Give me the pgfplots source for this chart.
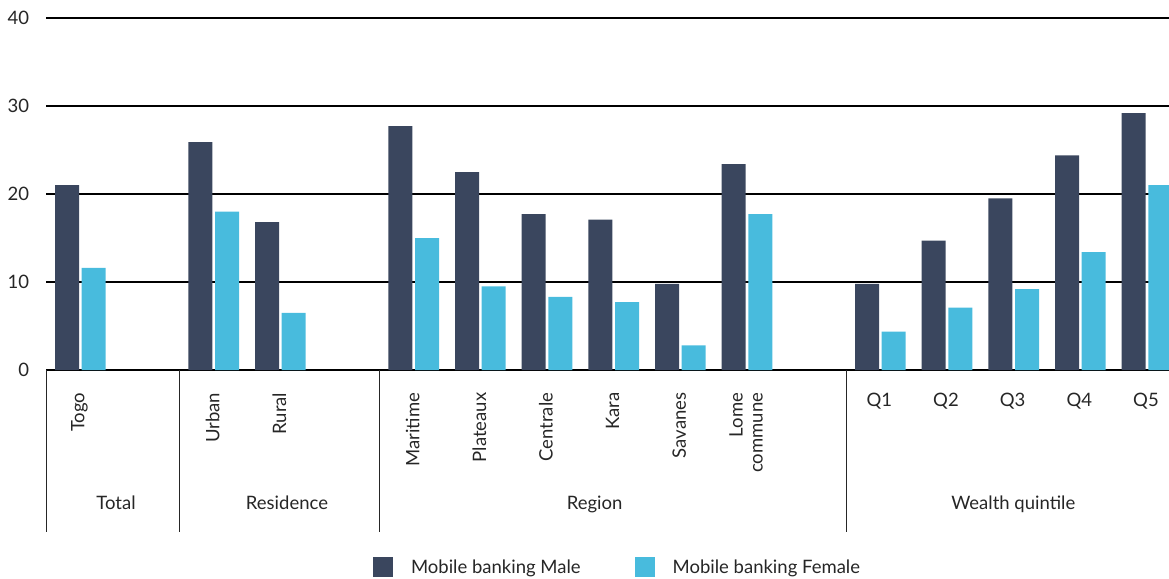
\documentclass[border=0pt]{standalone}
\usepackage{pgfplots}
\pgfplotsset{compat=1.18}
\usepackage{fontspec}
\setmainfont{Lato}
\definecolor{male}{HTML}{3A465E}
\definecolor{female}{HTML}{48BBDD}
\newcommand\lbl{\fontsize{18.5bp}{20bp}\selectfont}
\begin{document}
\begin{tikzpicture}
\useasboundingbox (0bp,0bp) rectangle (1169bp,-579bp);
\begin{axis}[
  at={(46bp,-370bp)}, anchor=south west,
  scale only axis, width=1123bp, height=352bp,
  xmin=-0.5, xmax=16.345, ymin=0, ymax=40,
  enlargelimits=false, clip=false,
  ybar, bar width=0.36,
  axis x line*=bottom, axis y line*=left,
  y axis line style={draw=none},
  x axis line style={black, line width=1.1pt},
  major tick length=0pt,
  ymajorgrids, grid style={black, line width=1.1pt},
  ytick={0,10,20,30,40},
  /pgf/number format/assume math mode=true,
  tick label style={font=\lbl, inner sep=0pt, text=black!85},
  yticklabel style={anchor=east},
  yticklabel shift=16.7bp,
  xticklabel shift=22.5bp,
  xtick={12,13,14,15,16},
  xticklabels={Q1,Q2,Q3,Q4,Q5},
  extra x ticks={0,2,3,5,6,7,8,9,10},
  extra x tick labels={Togo,Urban,Rural,Maritime,Plateaux,Centrale,Kara,Savanes,Lome\\commune},
  extra x tick style={xticklabel style={rotate=90, anchor=east, align=right}},
  legend style={draw=none, inner sep=0pt, outer sep=0pt,
    at={(0.2912,-0.5597)}, anchor=west, legend columns=2,
    font=\lbl, text=black!85,
    cells={anchor=west, inner sep=0pt},
    /tikz/every odd column/.append style={column sep=16bp},
    /tikz/every even column/.append style={column sep=52bp}},
  legend image code/.code={\fill[#1,draw=none] (0bp,-10bp) rectangle (20bp,10bp);},
]
\addplot[fill=male, draw=none, bar shift=-0.185] coordinates {
 (0,21.0) (2,25.9) (3,16.8) (5,27.7) (6,22.5) (7,17.7) (8,17.1) (9,9.8) (10,23.4)
 (12,9.8) (13,14.7) (14,19.5) (15,24.4) (16,29.2)};
\addlegendentry{Mobile banking Male}
\addplot[fill=female, draw=none, bar shift=0.215] coordinates {
 (0,11.6) (2,18.0) (3,6.5) (5,15.0) (6,9.5) (7,8.3) (8,7.7) (9,2.8) (10,17.7)
 (12,4.35) (13,7.1) (14,9.2) (15,13.4) (16,21.0)};
\addlegendentry{Mobile banking Female}
\foreach \s in {-0.5,1.5,4.5,11.5} {
  \edef\tmp{\noexpand\draw[black!85, line width=0.9pt] (axis cs:\s,0) -- (axis cs:\s,-18.4);}\tmp
}
\node[font=\lbl, text=black!85, anchor=base] at (axis cs:0.55,-15.85) {Total};
\node[font=\lbl, text=black!85, anchor=base] at (axis cs:3.115,-15.85) {Residence};
\node[font=\lbl, text=black!85, anchor=base] at (axis cs:7.73,-15.85) {Region};
\node[font=\lbl, text=black!85, anchor=base] at (axis cs:14.01,-15.85) {Wealth quintile};
\end{axis}
\end{tikzpicture}
\end{document}
